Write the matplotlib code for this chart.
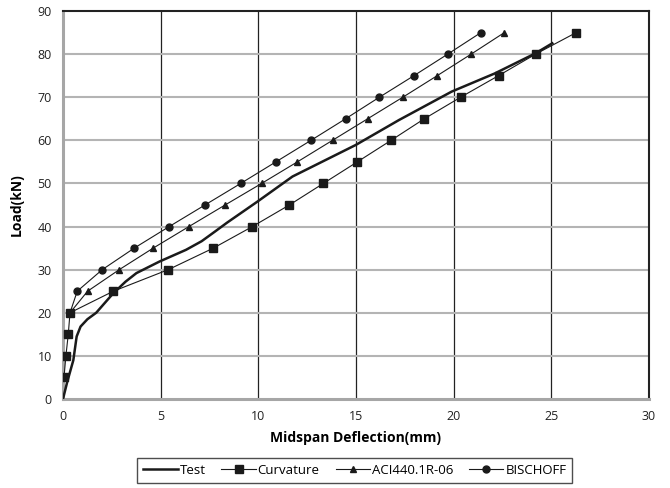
import matplotlib.pyplot as plt

plt.rcParams['font.family'] = ['Open Sans', 'DejaVu Sans']

# Test curve (continuous, no markers)
test_x = [0, 0.22, 0.53, 0.7, 0.9, 1.25, 1.7, 2.57, 3.2, 3.76, 4.95, 6.3, 7.1,
          7.8, 8.4, 9.96, 11.75, 14.98, 17.2, 19.9, 22.1, 24.2, 25.05]
test_y = [0, 4.0, 9.0, 14.5, 16.8, 18.5, 20.0, 24.5, 27.2, 29.2, 31.9, 34.6,
          36.6, 38.9, 40.9, 45.8, 51.6, 58.9, 64.7, 71.3, 75.5, 80.2, 82.5]

# Curvature method
curv_y = [5, 10, 15, 20, 25, 30, 35, 40, 45, 50, 55, 60, 65, 70, 75, 80, 85]
curv_x = [0.05, 0.15, 0.27, 0.36, 2.58, 5.39, 7.7, 9.7, 11.59, 13.33, 15.07,
          16.8, 18.5, 20.36, 22.3, 24.2, 26.28]

# ACI440.1R-06
aci_y = [20, 25, 30, 35, 40, 45, 50, 55, 60, 65, 70, 75, 80, 85]
aci_x = [0.36, 1.26, 2.88, 4.62, 6.45, 8.3, 10.17, 12.0, 13.8, 15.6, 17.4,
         19.16, 20.9, 22.6]

# BISCHOFF
bis_y = [20, 25, 30, 35, 40, 45, 50, 55, 60, 65, 70, 75, 80, 85]
bis_x = [0.36, 0.73, 2.01, 3.65, 5.44, 7.27, 9.1, 10.9, 12.7, 14.47, 16.2,
         17.97, 19.7, 21.4]

fig = plt.figure(figsize=(6.7, 4.88), dpi=100)
ax = fig.add_axes([0.094, 0.1824, 0.8746, 0.7951])

ax.plot(test_x, test_y, color='#1a1a1a', lw=1.8, label='Test', zorder=3)
ax.plot(curv_x, curv_y, color='#1a1a1a', lw=0.8, marker='s', ms=5.5,
        label='Curvature', zorder=4)
ax.plot(aci_x, aci_y, color='#1a1a1a', lw=0.8, marker='^', ms=5,
        label='ACI440.1R-06', zorder=4)
ax.plot(bis_x, bis_y, color='#1a1a1a', lw=0.8, marker='o', ms=5,
        label='BISCHOFF', zorder=4)

ax.set_xlim(0, 30)
ax.set_ylim(0, 90)
ax.set_xticks(range(0, 31, 5))
ax.set_yticks(range(0, 91, 10))

for x in range(5, 30, 5):
    ax.axvline(x, color='#222222', lw=0.9, zorder=1)
for y in range(10, 90, 10):
    ax.axhline(y, color='#b4b4b4', lw=1.5, zorder=1)

ax.spines['left'].set_color('#a6a6a6')
ax.spines['bottom'].set_color('#a6a6a6')
ax.spines['left'].set_linewidth(2.2)
ax.spines['bottom'].set_linewidth(2.2)
ax.spines['top'].set_color('#222222')
ax.spines['right'].set_color('#222222')
ax.spines['top'].set_linewidth(1.5)
ax.spines['right'].set_linewidth(1.5)

ax.tick_params(length=0, labelsize=9, colors='#222222', pad=8)
ax.set_xlabel('Midspan Deflection(mm)', fontsize=10, fontweight='bold', labelpad=6)
ax.set_ylabel('Load(kN)', fontsize=10, fontweight='bold', labelpad=10)

leg = ax.legend(loc='upper center', bbox_to_anchor=(0.498, -0.152), ncol=4,
                frameon=True, fancybox=False, fontsize=9.5, handlelength=2.6,
                columnspacing=1.2, handletextpad=0.15, borderpad=0.45,
                borderaxespad=0)
leg.get_frame().set_edgecolor('#222222')
leg.get_frame().set_linewidth(1.0)

fig.savefig('out.png', dpi=100)
